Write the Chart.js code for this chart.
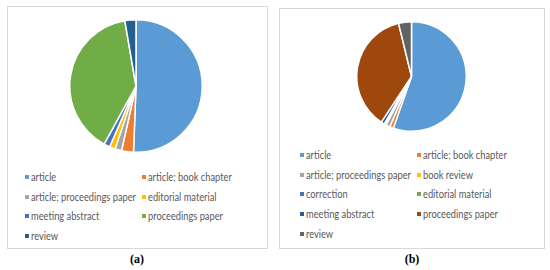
<!DOCTYPE html>
<html>
<head>
<meta charset="utf-8">
<script src="https://cdn.jsdelivr.net/npm/chart.js@4.4.1/dist/chart.umd.min.js"></script>
<style>
  html, body { margin: 0; padding: 0; background: #fff; }
  body { width: 550px; height: 270px; position: relative; overflow: hidden; font-family: Lato, sans-serif; }
  .box { position: absolute; border: 1px solid #d9d9d9; box-sizing: border-box; }
  canvas { position: absolute; }
  .leg { position: absolute; font-size: 11px; color: #595959; white-space: nowrap; line-height: 12px; }
  .leg i { position: absolute; left: 0; top: 4px; width: 4px; height: 4px; }
  .leg span { position: absolute; left: 6px; top: 0; display: inline-block; transform-origin: 0 50%; }
  .cap { position: absolute; font-family: "Liberation Serif", "DejaVu Serif", serif; font-weight: bold; font-size: 12px; color: #000; transform: translateX(-50%); }
</style>
</head>
<body>
<div class="box" style="left:7px;top:6px;width:261px;height:243px;"></div>
<div class="box" style="left:279px;top:8px;width:266px;height:241px;"></div>
<canvas id="ca" width="134" height="134" style="left:69px;top:19px;"></canvas>
<canvas id="cb" width="111" height="111" style="left:356px;top:21px;"></canvas>
<div id="legA"></div>
<div id="legB"></div>
<div class="cap" style="left:137px;top:252px;">(a)</div>
<div class="cap" style="left:412px;top:252px;">(b)</div>
<script>
// Chart (a)
const labelsA = ["article", "article; book chapter", "article; proceedings paper", "editorial material", "meeting abstract", "proceedings paper", "review"];
const valuesA = [50.6, 2.9, 1.6, 1.4, 1.5, 39.3, 2.7];
const colorsA = ["#5B9BD5", "#ED7D31", "#A5A5A5", "#FFC000", "#4472C4", "#70AD47", "#255E91"];

// Chart (b)
const labelsB = ["article", "article; book chapter", "article; proceedings paper", "book review", "correction", "editorial material", "meeting abstract", "proceedings paper", "review"];
const valuesB = [55.4, 1.1, 1.2, 0.2, 0.2, 0.2, 1.0, 36.9, 3.8];
const colorsB = ["#5B9BD5", "#ED7D31", "#A5A5A5", "#FFC000", "#4472C4", "#70AD47", "#255E91", "#9E480E", "#636363"];

function makePie(id, labels, values, colors) {
  new Chart(document.getElementById(id), {
    type: 'pie',
    data: { labels: labels, datasets: [{ data: values, backgroundColor: colors, borderColor: '#ffffff', borderWidth: 1.5 }] },
    options: {
      responsive: false, animation: false,
      layout: { padding: 0 },
      plugins: { legend: { display: false }, tooltip: { enabled: false } }
    }
  });
}
makePie('ca', labelsA, valuesA, colorsA);
makePie('cb', labelsB, valuesB, colorsB);

// horizontal squeeze so the legend text has the reference's narrow (Calibri-like) width
const mctx = document.createElement('canvas').getContext('2d');
mctx.font = '11px Lato';
const squeeze = Math.min(1, 105 / mctx.measureText('article; proceedings paper').width);

function makeLegend(id, labels, colors, x1, x2, y0, dy) {
  const host = document.getElementById(id);
  labels.forEach((lab, i) => {
    const d = document.createElement('div');
    d.className = 'leg';
    d.style.left = (i % 2 === 0 ? x1 : x2) + 'px';
    d.style.top = (y0 + Math.floor(i / 2) * dy - 6) + 'px';
    const m = document.createElement('i');
    m.style.background = colors[i];
    d.appendChild(m);
    const s = document.createElement('span');
    s.textContent = lab;
    s.style.transform = 'scaleX(' + squeeze + ')';
    d.appendChild(s);
    host.appendChild(d);
  });
}
makeLegend('legA', labelsA, colorsA, 25, 142, 177, 19.6);
makeLegend('legB', labelsB, colorsB, 300, 417, 155, 19.7);
</script>
</body>
</html>
